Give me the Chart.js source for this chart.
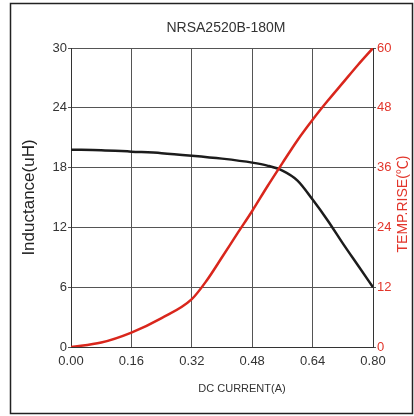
<!DOCTYPE html>
<html>
<head>
<meta charset="utf-8">
<script src="https://cdn.jsdelivr.net/npm/chart.js@4.4.0/dist/chart.umd.min.js"></script>
<style>
    html, body { margin: 0; padding: 0; background: #fff; }
    #wrap { width: 414px; height: 416px; }
</style>
</head>
<body>
<div id="wrap"><canvas id="chartNrsa" width="414" height="416"></canvas></div>
<script>
// values
var currentPoints = [0, 0.08, 0.16, 0.24, 0.32, 0.40, 0.48, 0.52, 0.56, 0.60, 0.64, 0.68, 0.72, 0.76, 0.80];
var inductanceValues = [19.8, 19.75, 19.6, 19.45, 19.2, 18.9, 18.5, 18.2, 17.7, 16.7, 14.8, 12.7, 10.4, 8.2, 6.0];

var tempCurrent = [0, 0.08, 0.16, 0.24, 0.32, 0.36, 0.40, 0.44, 0.48, 0.52, 0.56, 0.60, 0.64, 0.68, 0.72, 0.76, 0.80];
var tempValues = [0, 0.9, 2.9, 5.8, 9.6, 13.4, 18.0, 22.7, 27.3, 32.2, 36.9, 41.5, 45.6, 49.4, 53.0, 56.6, 60.0];

var currentTicks = [0, 0.16, 0.32, 0.48, 0.64, 0.80];
var inductanceTicks = [0, 6, 12, 18, 24, 30];
var tempTicks = [0, 12, 24, 36, 48, 60];

var chartTitle = 'NRSA2520B-180M';
var xTitle = 'DC CURRENT(A)';
var leftTitle = 'Inductance(uH)';
var rightTitle = 'TEMP.RISE(\u2103)';

var FONT = '"Liberation Sans", Arial, "Noto Sans CJK SC", sans-serif';
var RED = '#d9261c';
var RED_TEXT = '#e2352b';

function toXY(xs, ys) {
    return xs.map(function (x, i) { return { x: x, y: ys[i] }; });
}

function fixedTicks(list) {
    return function (scale) {
        scale.ticks = list.map(function (v) { return { value: v }; });
    };
}

// frame round the whole picture, plus the titles Chart.js can't place the same way
var frameAndTitles = {
    id: 'frameAndTitles',
    afterDraw: function (chart) {
        var ctx = chart.ctx;
        ctx.save();
        ctx.strokeStyle = '#222';
        ctx.lineWidth = 1.5;
        ctx.strokeRect(10.5, 3.5, 402, 410);

        ctx.textAlign = 'center';
        ctx.textBaseline = 'middle';
        ctx.fillStyle = '#333';
        ctx.font = '14px ' + FONT;
        ctx.fillText(chartTitle, 226, 28);

        ctx.font = '11px ' + FONT;
        ctx.fillText(xTitle, 242, 389);

        ctx.translate(403, 204);
        ctx.rotate(-Math.PI / 2);
        ctx.fillStyle = RED_TEXT;
        ctx.font = '14px ' + FONT;
        ctx.fillText(rightTitle, 0, 0);
        ctx.restore();
    }
};

var ctx = document.getElementById('chartNrsa').getContext('2d');
new Chart(ctx, {
    type: 'line',
    data: {
        datasets: [{
            label: 'Temp rise',
            data: toXY(tempCurrent, tempValues),
            yAxisID: 'y1',
            borderColor: RED,
            borderWidth: 2.5,
            pointRadius: 0,
            cubicInterpolationMode: 'monotone'
        }, {
            label: 'Inductance',
            data: toXY(currentPoints, inductanceValues),
            yAxisID: 'y',
            borderColor: '#1c1c1c',
            borderWidth: 2.5,
            pointRadius: 0,
            cubicInterpolationMode: 'monotone'
        }]
    },
    options: {
        responsive: false,
        devicePixelRatio: 1,
        animation: false,
        layout: { padding: { top: 48, left: 0, right: 0, bottom: 0 } },
        plugins: {
            legend: { display: false },
            tooltip: { enabled: false },
            title: { display: false }
        },
        scales: {
            x: {
                type: 'linear',
                min: 0,
                max: 0.8,
                afterBuildTicks: fixedTicks(currentTicks),
                afterFit: function (s) { s.height = 69; },
                ticks: {
                    font: { family: FONT, size: 13 },
                    color: '#333',
                    padding: 7,
                    maxRotation: 0,
                    callback: function (v) { return Number(v).toFixed(2); }
                },
                grid: { color: '#555', lineWidth: 1, drawTicks: false },
                border: { color: '#333', width: 1 }
            },
            y: {
                position: 'left',
                min: 0,
                max: 30,
                afterBuildTicks: fixedTicks(inductanceTicks),
                afterFit: function (s) { s.width = 71; },
                ticks: {
                    font: { family: FONT, size: 13 },
                    color: '#333',
                    padding: 1
                },
                grid: { color: '#555', lineWidth: 1, tickLength: 3 },
                border: { color: '#333', width: 1 },
                title: {
                    display: true,
                    text: leftTitle,
                    color: '#222',
                    font: { family: FONT, size: 17 },
                    padding: { top: 19, bottom: 0 }
                }
            },
            y1: {
                position: 'right',
                min: 0,
                max: 60,
                afterBuildTicks: fixedTicks(tempTicks),
                afterFit: function (s) { s.width = 41; },
                ticks: {
                    font: { family: FONT, size: 13 },
                    color: RED_TEXT,
                    padding: 1
                },
                grid: { drawOnChartArea: false, color: '#555', tickLength: 3 },
                border: { color: '#333', width: 1 }
            }
        }
    },
    plugins: [frameAndTitles]
});
</script>
</body>
</html>
